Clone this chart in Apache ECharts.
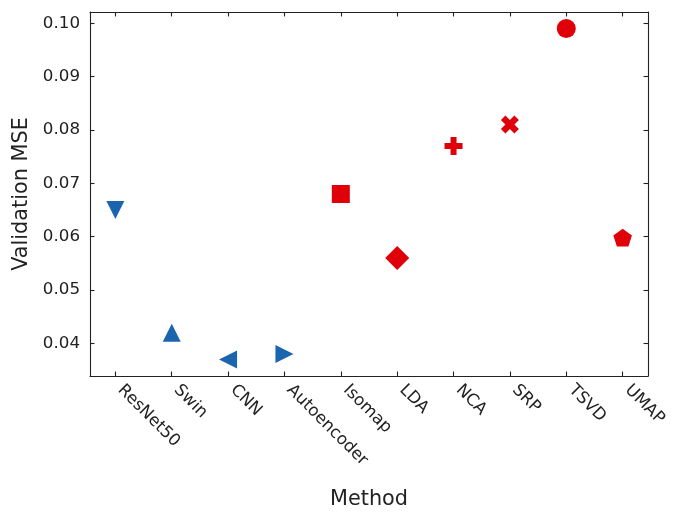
<!DOCTYPE html>
<html>
<head>
<meta charset="utf-8">
<script src="https://cdn.jsdelivr.net/npm/echarts@6/dist/echarts.min.js"></script>
<style>
html,body{margin:0;padding:0;background:#fff;}
#chart{width:677px;height:515px;}
</style>
</head>
<body>
<div id="chart"></div>
<script>
// ---- data ----
const methods = ['ResNet50','Swin','CNN','Autoencoder','Isomap','LDA','NCA','SRP','TSVD','UMAP'];
const mseValues = [0.065, 0.042, 0.037, 0.038, 0.068, 0.056, 0.077, 0.081, 0.099, 0.060];
const groups = ['deep','deep','deep','deep','reduction','reduction','reduction','reduction','reduction','reduction'];
const yTicks = [0.04, 0.05, 0.06, 0.07, 0.08, 0.09, 0.10];

// ---- styles ----
const groupColor = { deep: '#1b64ae', reduction: '#df0009' };
const markerStyles = [
  { symbol: 'path://M0,0 L2,0 L1,2 Z', size: [18, 18] },              // down triangle
  { symbol: 'path://M1,0 L2,2 L0,2 Z', size: [18, 18] },              // up triangle
  { symbol: 'path://M2,0 L2,2 L0,1 Z', size: [18, 18] },              // left triangle
  { symbol: 'path://M0,0 L2,1 L0,2 Z', size: [18, 18] },              // right triangle
  { symbol: 'rect', size: [18, 18] },                                  // square
  { symbol: 'path://M1,0 L2,1 L1,2 L0,1 Z', size: [24, 24] },         // diamond
  { symbol: 'path://M-1,-3 L1,-3 L1,-1 L3,-1 L3,1 L1,1 L1,3 L-1,3 L-1,1 L-3,1 L-3,-1 L-1,-1 Z', size: [18, 18] }, // filled plus
  { symbol: 'path://M-1,-2 L0,-1 L1,-2 L2,-1 L1,0 L2,1 L1,2 L0,1 L-1,2 L-2,1 L-1,0 L-2,-1 Z', size: [18, 18] },   // filled x
  { symbol: 'circle', size: [19, 19] },                                // circle
  { symbol: 'path://M0,-1 L0.951,-0.309 L0.588,0.809 L-0.588,0.809 L-0.951,-0.309 Z', size: [18.6, 17.7], offset: [0, '5%'] } // pentagon
];

const xIdx = methods.map((_, i) => i);
const seriesData = methods.map((m, i) => ({
  name: m,
  value: [i, mseValues[i]],
  symbol: markerStyles[i].symbol,
  symbolSize: markerStyles[i].size,
  symbolOffset: markerStyles[i].offset || [0, 0],
  itemStyle: { color: groupColor[groups[i]], opacity: 1 }
}));

const FONT = 'DejaVu Sans';
const TICK_FS = 16.7, NAME_FS = 20.8;
const axisLine = { show: true, onZero: false, lineStyle: { color: '#222', width: 1.1 } };
const tickStyle = { lineStyle: { color: '#222', width: 1.1 } };
const xMin = -0.45, xMax = 9.45, yMin = 0.0339, yMax = 0.1021;

const chart = echarts.init(document.getElementById('chart'), null, { renderer: 'canvas', width: 677, height: 515 });
chart.setOption({
  animation: false,
  backgroundColor: '#fff',
  grid: { left: 90, top: 12, width: 558, height: 371, containLabel: false },
  xAxis: [
    {
      type: 'value', position: 'bottom', min: xMin, max: xMax,
      name: 'Method', nameLocation: 'middle', nameGap: 113,
      nameTextStyle: { fontFamily: FONT, fontSize: NAME_FS, color: '#222' },
      axisLine: axisLine,
      splitLine: { show: false },
      axisTick: Object.assign({ show: true, inside: true, length: 4.5, customValues: xIdx }, tickStyle),
      axisLabel: {
        customValues: xIdx, rotate: -45, margin: 6.5, padding: [0, 0, 0, 7],
        fontFamily: FONT, fontSize: TICK_FS, color: '#222',
        formatter: v => methods[Math.round(v)]
      }
    },
    {
      type: 'value', position: 'top', min: xMin, max: xMax,
      axisLine: axisLine,
      splitLine: { show: false },
      axisTick: Object.assign({ show: true, inside: true, length: 4.5, customValues: xIdx }, tickStyle),
      axisLabel: { show: false }
    }
  ],
  yAxis: [
    {
      type: 'value', position: 'left', min: yMin, max: yMax,
      name: 'Validation MSE', nameLocation: 'middle', nameGap: 58,
      nameTextStyle: { fontFamily: FONT, fontSize: NAME_FS, color: '#222' },
      axisLine: axisLine,
      splitLine: { show: false },
      axisTick: Object.assign({ show: true, inside: true, length: 4.5, customValues: yTicks }, tickStyle),
      axisLabel: {
        customValues: yTicks, margin: 10,
        fontFamily: FONT, fontSize: TICK_FS, color: '#222',
        formatter: v => v.toFixed(2)
      }
    },
    {
      type: 'value', position: 'right', min: yMin, max: yMax,
      axisLine: axisLine,
      splitLine: { show: false },
      axisTick: Object.assign({ show: true, inside: true, length: 4.5, customValues: yTicks }, tickStyle),
      axisLabel: { show: false }
    }
  ],
  series: [{
    type: 'scatter',
    xAxisIndex: 0, yAxisIndex: 0,
    data: seriesData
  }]
});
</script>
</body>
</html>
